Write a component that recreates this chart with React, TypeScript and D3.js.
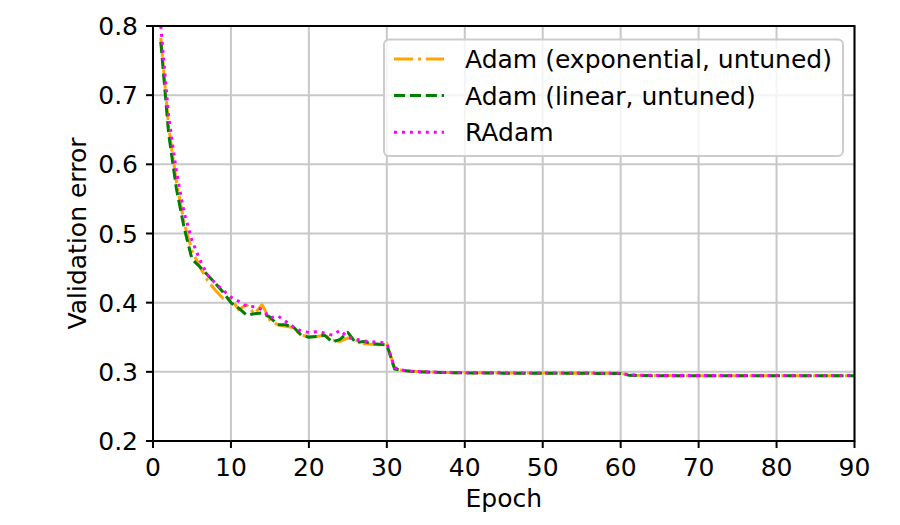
import React from "react";
import * as d3 from "d3";

const epochs: number[] = d3.range(1, 91);

const adamExpEarly: number[] = [0.783, 0.655, 0.575, 0.515, 0.475, 0.452, 0.432, 0.418, 0.406, 0.405,
  0.390, 0.397, 0.384, 0.397, 0.375, 0.368, 0.366, 0.364, 0.353, 0.351,
  0.351, 0.353, 0.346, 0.344, 0.349, 0.346, 0.341, 0.340, 0.339, 0.341];
const adamLinEarly: number[] = [0.777, 0.645, 0.565, 0.508, 0.463, 0.452, 0.440, 0.428, 0.415, 0.400,
  0.392, 0.382, 0.384, 0.385, 0.379, 0.368, 0.368, 0.365, 0.353, 0.350,
  0.351, 0.353, 0.343, 0.347, 0.357, 0.342, 0.344, 0.341, 0.340, 0.339];
const radamEarly: number[] = [0.800, 0.670, 0.590, 0.530, 0.490, 0.462, 0.440, 0.428, 0.418, 0.408,
  0.402, 0.395, 0.394, 0.390, 0.378, 0.381, 0.373, 0.365, 0.359, 0.357,
  0.358, 0.356, 0.353, 0.360, 0.350, 0.347, 0.345, 0.343, 0.343, 0.341];
// epochs 31-60
const adamExpMid: number[] = [0.305, 0.302, 0.301, 0.3005, 0.300, 0.2995, 0.2992, 0.299, 0.2988, 0.2987,
  0.2986, 0.2985, 0.2985, 0.2984, 0.2984, 0.2983, 0.2983, 0.2982, 0.2982, 0.2982,
  0.2981, 0.2981, 0.2981, 0.298, 0.298, 0.298, 0.298, 0.298, 0.298, 0.298];
const adamLinMid: number[] = [0.304, 0.302, 0.3008, 0.3, 0.2996, 0.2993, 0.299, 0.2988, 0.2986, 0.2985,
  0.2984, 0.2983, 0.2982, 0.2982, 0.2981, 0.2981, 0.298, 0.298, 0.298, 0.2979,
  0.2979, 0.2979, 0.2978, 0.2978, 0.2978, 0.2978, 0.2977, 0.2977, 0.2977, 0.2977];
const radamMid: number[] = [0.306, 0.3025, 0.3012, 0.3005, 0.3, 0.2996, 0.2993, 0.299, 0.2989, 0.2988,
  0.2987, 0.2986, 0.2986, 0.2985, 0.2985, 0.2984, 0.2984, 0.2984, 0.2983, 0.2983,
  0.2983, 0.2982, 0.2982, 0.2982, 0.2982, 0.2982, 0.2981, 0.2981, 0.2981, 0.2981];
// epochs 61-90
const adamExpLate: number[] = [0.2955, 0.295, 0.2948, 0.2947, 0.2946, 0.2946, 0.2945, 0.2945, 0.2945, 0.2945,
  0.2945, 0.2945, 0.2945, 0.2944, 0.2944, 0.2944, 0.2944, 0.2944, 0.2944, 0.2944,
  0.2944, 0.2944, 0.2944, 0.2944, 0.2944, 0.2944, 0.2944, 0.2944, 0.2944, 0.2944];
const adamLinLate: number[] = [0.2952, 0.2948, 0.2946, 0.2945, 0.2944, 0.2944, 0.2943, 0.2943, 0.2943, 0.2943,
  0.2943, 0.2943, 0.2943, 0.2943, 0.2943, 0.2943, 0.2943, 0.2943, 0.2943, 0.2943,
  0.2943, 0.2943, 0.2943, 0.2943, 0.2943, 0.2943, 0.2943, 0.2943, 0.2943, 0.2943];
const radamLate: number[] = [0.2958, 0.2952, 0.295, 0.2949, 0.2948, 0.2947, 0.2947, 0.2947, 0.2946, 0.2946,
  0.2946, 0.2946, 0.2946, 0.2946, 0.2946, 0.2946, 0.2946, 0.2946, 0.2946, 0.2946,
  0.2946, 0.2946, 0.2946, 0.2946, 0.2946, 0.2946, 0.2946, 0.2946, 0.2946, 0.2946];

const seriesNames: string[] = ["Adam (exponential, untuned)", "Adam (linear, untuned)", "RAdam"];
const xTicks: number[] = [0, 10, 20, 30, 40, 50, 60, 70, 80, 90];
const yTicks: number[] = [0.2, 0.3, 0.4, 0.5, 0.6, 0.7, 0.8];

const W = 900, H = 525;
const L = 153, R = 854.5, T = 26, B = 441;
const FONT = "'DejaVu Sans', sans-serif";
const FS = 25;
const LW = 3;

export default function App() {
  const x = d3.scaleLinear().domain([0, 90]).range([L, R]);
  const y = d3.scaleLinear().domain([0.2, 0.8]).range([B, T]);
  const series = [
    { name: seriesNames[0], values: [...adamExpEarly, ...adamExpMid, ...adamExpLate], color: "#FFA500", dash: [6.4, 1.6, 1, 1.6] },
    { name: seriesNames[1], values: [...adamLinEarly, ...adamLinMid, ...adamLinLate], color: "#008000", dash: [3.7, 1.6] },
    { name: seriesNames[2], values: [...radamEarly, ...radamMid, ...radamLate], color: "#FF00FF", dash: [1, 1.65] },
  ];
  const line = d3.line<number>().x((_, i) => x(epochs[i])).y((v) => y(v));
  const dashStr = (d: number[]) => d.map((v) => (v * LW).toFixed(2)).join(",");

  return (
    <svg width={W} height={H} style={{ position: "absolute", left: 0, top: 0, background: "#fff" }} fontFamily={FONT}>
      <defs>
        <clipPath id="clip"><rect x={L} y={T} width={R - L} height={B - T} /></clipPath>
      </defs>
      <rect x={0} y={0} width={W} height={H} fill="#fff" />
      {xTicks.map((t) => (
        <line key={"gx" + t} x1={x(t)} x2={x(t)} y1={T} y2={B} stroke="#c8c8c8" strokeWidth={2} />
      ))}
      {yTicks.map((t) => (
        <line key={"gy" + t} x1={L} x2={R} y1={y(t)} y2={y(t)} stroke="#c8c8c8" strokeWidth={2} />
      ))}
      <g clipPath="url(#clip)">
        {series.map((s) => (
          <path key={s.name} d={line(s.values) || ""} fill="none" stroke={s.color} strokeWidth={LW}
            strokeDasharray={dashStr(s.dash)} strokeLinejoin="round" />
        ))}
      </g>
      <rect x={L} y={T} width={R - L} height={B - T} fill="none" stroke="#000" strokeWidth={2} />
      {xTicks.map((t) => (
        <g key={"tx" + t}>
          <line x1={x(t)} x2={x(t)} y1={B} y2={B + 7} stroke="#000" strokeWidth={2} />
          <text x={x(t)} y={B + 35} textAnchor="middle" fontSize={FS} fill="#000">{t}</text>
        </g>
      ))}
      {yTicks.map((t) => (
        <g key={"ty" + t}>
          <line x1={L - 7} x2={L} y1={y(t)} y2={y(t)} stroke="#000" strokeWidth={2} />
          <text x={L - 15} y={y(t) + 9.1} textAnchor="end" fontSize={FS} fill="#000">{t.toFixed(1)}</text>
        </g>
      ))}
      <text x={(L + R) / 2} y={507} textAnchor="middle" fontSize={FS} fill="#000">Epoch</text>
      <text transform={`translate(86, ${(T + B) / 2}) rotate(-90)`} textAnchor="middle" fontSize={FS} fill="#000">Validation error</text>
      <g>
        <rect x={384} y={39.5} width={459} height={116.5} rx={5} ry={5} fill="#fff" fillOpacity={0.8} stroke="#cccccc" strokeWidth={2} />
        {series.map((s, i) => {
          const cy = 59 + i * 36.6;
          return (
            <g key={"lg" + i}>
              <line x1={394} x2={444} y1={cy} y2={cy} stroke={s.color} strokeWidth={LW} strokeDasharray={dashStr(s.dash)} />
              <text x={465} y={cy + 9.1} fontSize={FS} fill="#000">{s.name}</text>
            </g>
          );
        })}
      </g>
    </svg>
  );
}
